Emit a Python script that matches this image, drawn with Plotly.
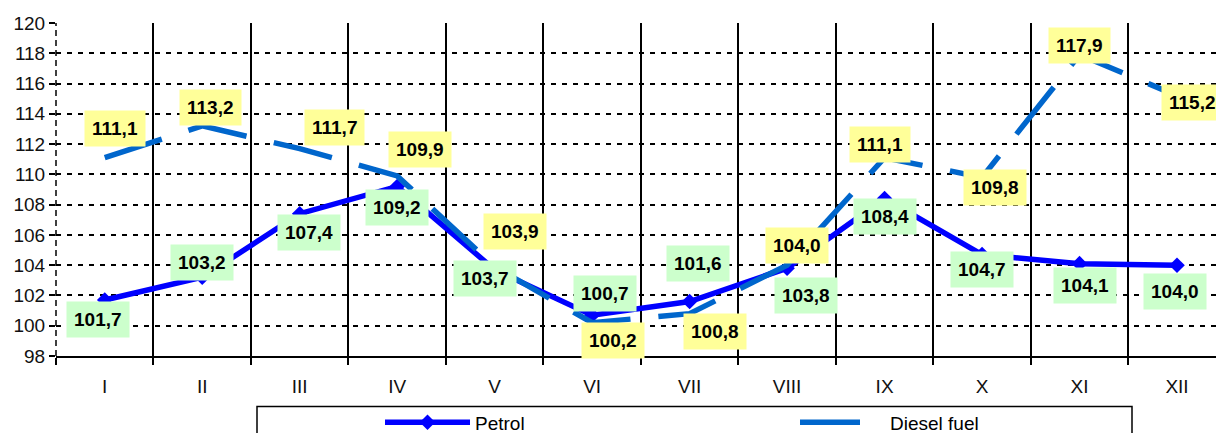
import plotly.graph_objects as go

months = ["I", "II", "III", "IV", "V", "VI", "VII", "VIII", "IX", "X", "XI", "XII"]
petrol = [101.7, 103.2, 107.4, 109.2, 103.7, 100.7, 101.6, 103.8, 108.4, 104.7, 104.1, 104.0]
diesel = [111.1, 113.2, 111.7, 109.9, 103.9, 100.2, 100.8, 104.0, 111.1, 109.8, 117.9, 115.2]
y_ticks = [98, 100, 102, 104, 106, 108, 110, 112, 114, 116, 118, 120]

# label offsets in pixels (xshift, yshift)
diesel_off = [(10, 29), (8, 18), (35, 21), (23, 26), (20, 35), (21, -18), (25, -18),
              (10, 20), (-5, 13), (13, -10), (0, 9), (15, -7)]
petrol_off = [(-7, -19), (0, 15), (9, -19), (0, -21), (-10, -9), (13, 22), (8, 38),
              (19, -27), (0, -18), (0, -15), (5, -22), (-2, -26)]

FONT = "Arial, 'Liberation Sans', sans-serif"
xs = list(range(len(months)))

fig = go.Figure()
fig.add_trace(go.Scatter(
    x=xs, y=petrol, name="Petrol", mode="lines+markers",
    line=dict(color="#0000FF", width=5.5),
    marker=dict(symbol="diamond", size=12, color="#0000FF"),
    hoverinfo="skip",
))
fig.add_trace(go.Scatter(
    x=xs, y=diesel, name="Diesel fuel", mode="lines",
    line=dict(color="#0066CC", width=5.5, dash="60px,28px"),
    hoverinfo="skip",
))

def fmt(v):
    return f"{v:.1f}".replace(".", ",")

for i, v in enumerate(diesel):
    fig.add_annotation(x=xs[i], y=v, xref="x", yref="y", text=fmt(v), showarrow=False,
                       xshift=diesel_off[i][0], yshift=diesel_off[i][1],
                       bgcolor="#FFFF99", borderpad=7,
                       font=dict(family=FONT, size=19, color="black", weight="bold"))
for i, v in enumerate(petrol):
    fig.add_annotation(x=xs[i], y=v, xref="x", yref="y", text=fmt(v), showarrow=False,
                       xshift=petrol_off[i][0], yshift=petrol_off[i][1],
                       bgcolor="#CCFFCC", borderpad=7,
                       font=dict(family=FONT, size=19, color="black", weight="bold"))

# dashed left axis line
fig.add_shape(type="line", xref="paper", yref="paper", x0=0, x1=0, y0=0, y1=1,
              line=dict(color="black", width=1.5, dash="6px,4px"))
# legend frame
fig.add_shape(type="rect", xref="paper", yref="paper",
              x0=(257 - 56) / 1160, x1=(1132 - 56) / 1160, y0=-0.35, y1=(355.7 - 406) / 332.4,
              line=dict(color="black", width=1.5), fillcolor="white", layer="below")

fig.update_layout(
    width=1216, height=433,
    margin=dict(l=56, r=0, t=23, b=77, autoexpand=False),
    paper_bgcolor="white", plot_bgcolor="white",
    font=dict(family=FONT, color="black"),
    showlegend=True,
    hovermode=False,
    legend=dict(orientation="h", x=(380 - 56) / 1160, xanchor="left",
                y=(355.7 - 422) / 332.4, yanchor="middle",
                entrywidth=315, entrywidthmode="pixels", itemwidth=85,
                font=dict(family=FONT, size=19, color="black"),
                bgcolor="rgba(0,0,0,0)", borderwidth=0),
    xaxis=dict(range=[-0.5, 11.4], tickmode="array", tickvals=xs, ticktext=months,
               showgrid=False, zeroline=False, showline=True, linecolor="black", linewidth=2,
               ticks="", tickfont=dict(family=FONT, size=19, color="#111"),
               ticklabelstandoff=12, automargin=False,
               minor=dict(tick0=0.5, dtick=1, showgrid=True, gridcolor="black", gridwidth=2,
                          ticks="outside", ticklen=7, tickcolor="black", tickwidth=2)),
    yaxis=dict(range=[98, 120], tickmode="array", tickvals=y_ticks,
               showgrid=True, gridcolor="black", gridwidth=2, griddash="5px,6px",
               zeroline=False, showline=False, ticks="outside", ticklen=6,
               tickcolor="black", tickwidth=1.5, automargin=False,
               tickfont=dict(family=FONT, size=19, color="#111")),
)

fig.write_html("out.html", config={"displayModeBar": False},
               post_script="document.body.style.margin='0';document.body.style.overflow='hidden';")
